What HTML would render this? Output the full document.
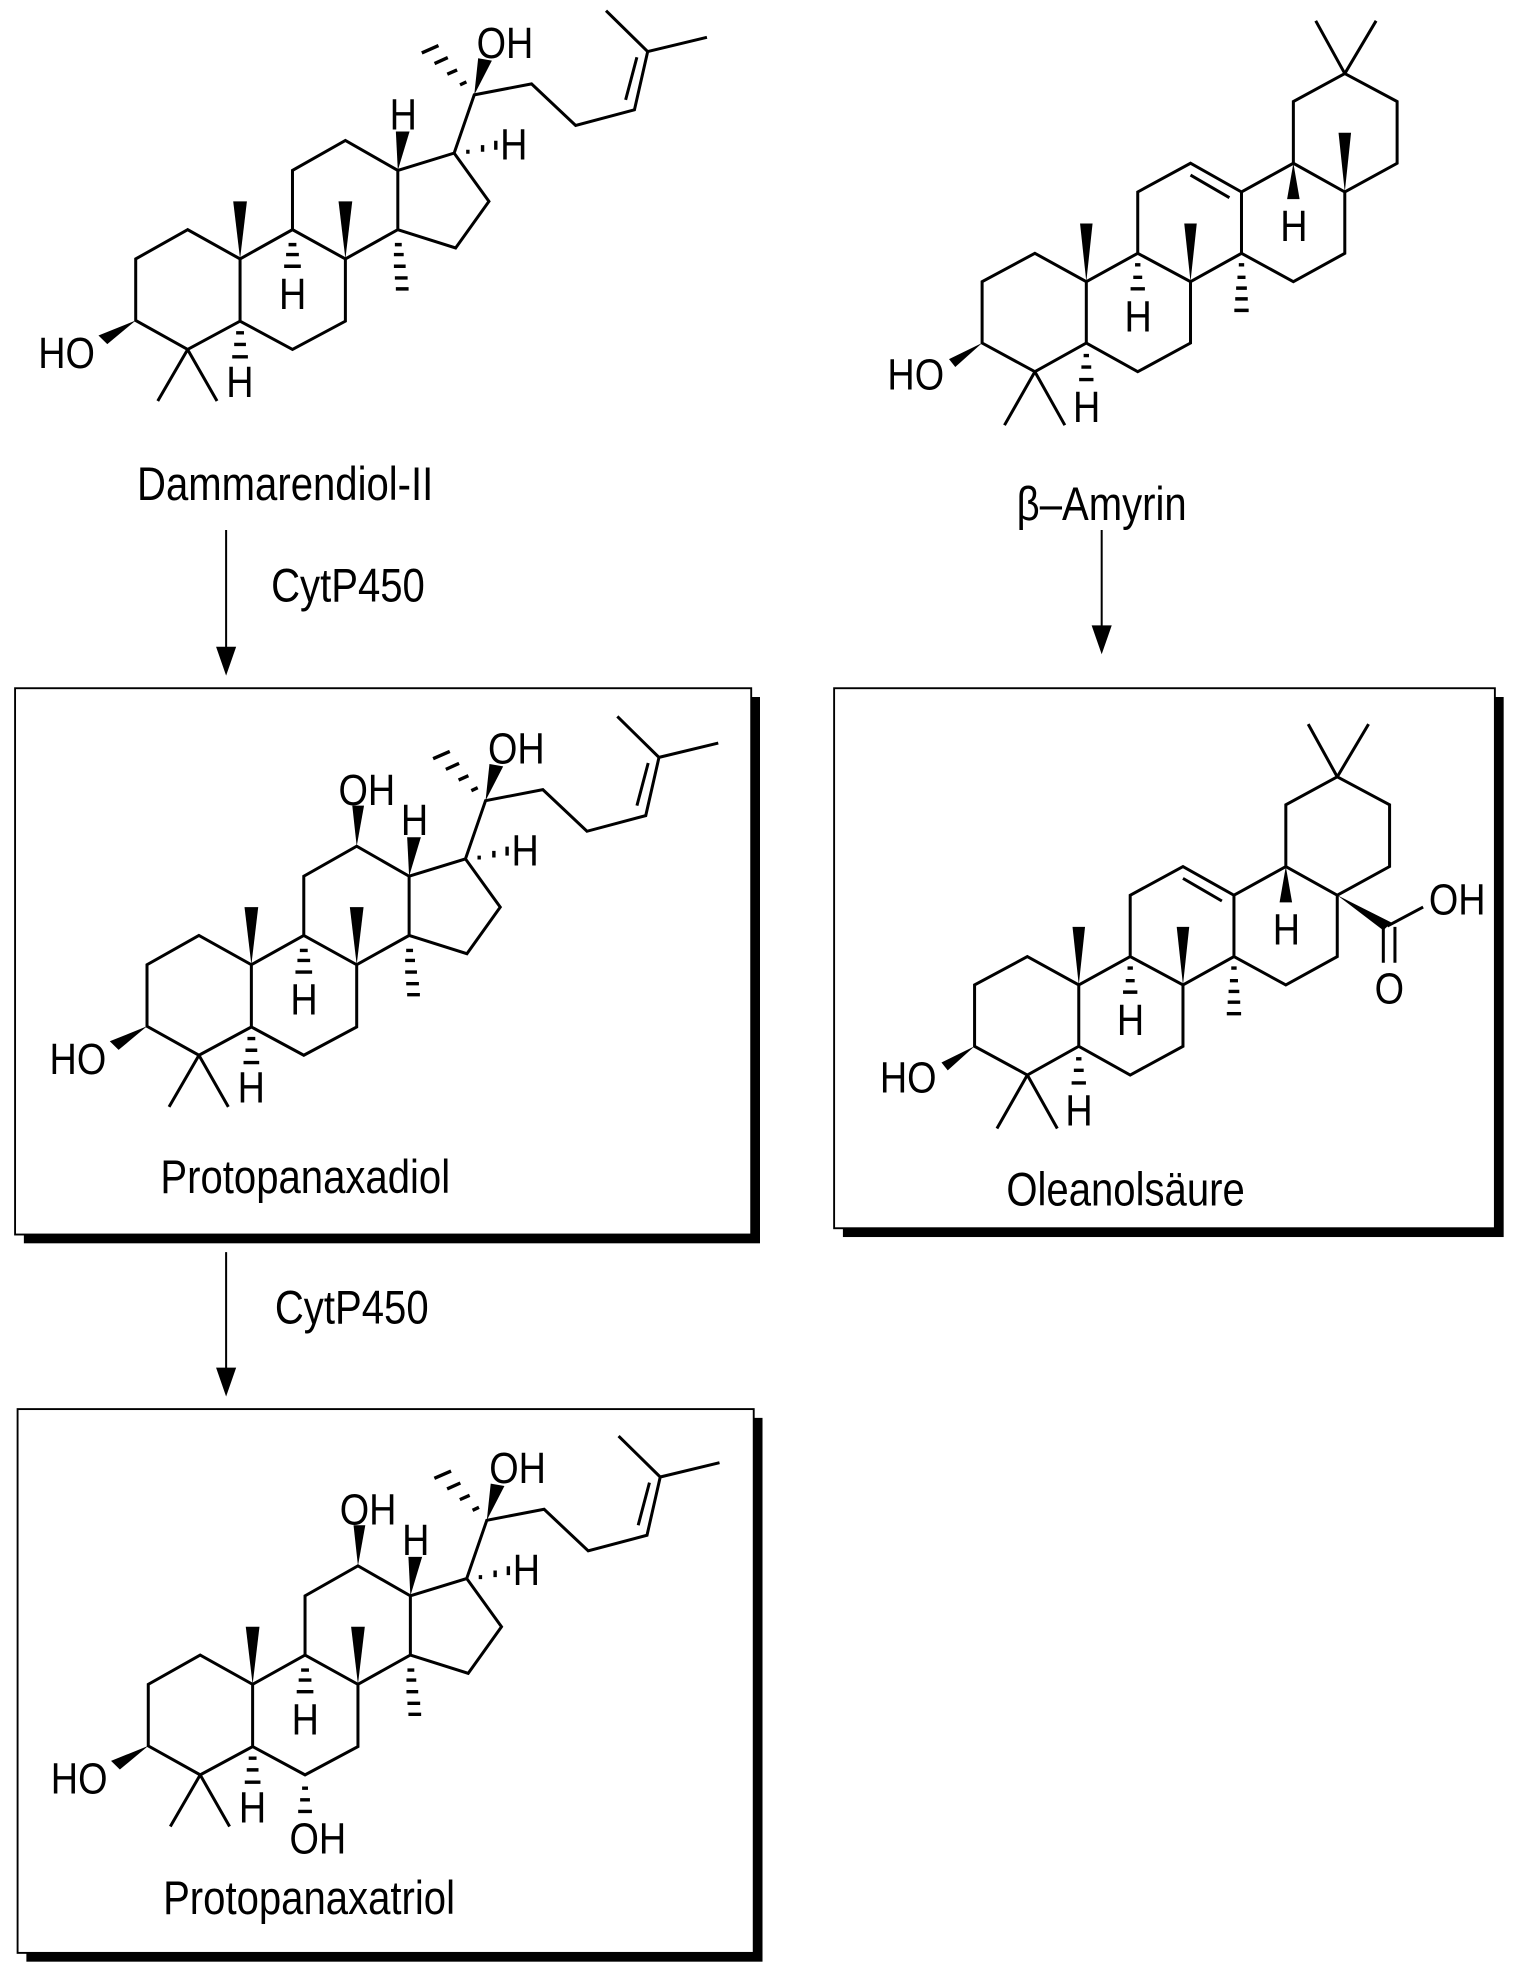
<!DOCTYPE html>
<html><head><meta charset="utf-8"><style>
html,body{margin:0;padding:0;background:#fff}
svg{display:block}
text{font-family:"Liberation Sans",Arial,sans-serif;fill:#000}
.a{font-size:35px}
.n{font-size:38px}
</style></head><body>
<svg width="1520" height="1978" viewBox="0 0 1210 1575" preserveAspectRatio="none" xmlns="http://www.w3.org/2000/svg">
<defs>
<g id="dam">
 <g transform="matrix(0.39,0,0,0.265,0,0)">
  <g fill="none" stroke="#000" stroke-width="3" stroke-linejoin="miter">
   <path vector-effect="non-scaling-stroke" d="M383,690 L277,778 L277,963 L383,1050 L490,965 L490,778 Z M490,778 L597,690 L705,778 L705,965 L597,1050 L490,965 M597,690 L597,512 L705,422 L812,512 L812,690 L705,778 M812,512 L927,460 L998,605 L930,745 L812,690 M927,460 L968,285 L1085,252 L1175,377 L1295,330 L1322,155 L1237,32 M1322,155 L1443,112 M1277,300 L1300,172 M383,1050 L322,1205 M383,1050 L443,1205"/>
   <path vector-effect="non-scaling-stroke" stroke-width="3.4" d="M589,735 L605,735 M584,765 L610,765 M580,800 L614,800 M806,735 L820,735 M804,765 L824,765 M804,800 L828,800 M806,835 L832,835 M808,868 L834,868 M482,1000 L498,1000 M478,1035 L502,1035 M474,1072 L506,1072 M955,450 L955,462 M985,436 L985,456 M1012,423 L1012,450 M939,255 L952,246 M913,223 L933,210 M887,191 L914,173 M861,159 L895,137"/>
  </g>
  <polygon points="490,778 476,605 504,605"/>
  <polygon points="705,778 691,605 719,605"/>
  <polygon points="812,512 808,395 836,395"/>
  <polygon points="968,285 976,175 1004,182"/>
  <polygon points="277,963 201,1008 219,1034"/>
 </g>
 <text class="a" transform="translate(402,46) scale(0.86,1)" text-anchor="middle">OH</text>
 <text class="a" transform="translate(321,103) scale(0.86,1)" text-anchor="middle">H</text>
 <text class="a" transform="translate(409,127) scale(0.86,1)" text-anchor="middle">H</text>
 <text class="a" transform="translate(233,246) scale(0.86,1)" text-anchor="middle">H</text>
 <text class="a" transform="translate(191,316) scale(0.86,1)" text-anchor="middle">H</text>
 <text class="a" transform="translate(53,293) scale(0.86,1)" text-anchor="middle">HO</text>
</g>
<g id="oh12">
 <g transform="matrix(0.39,0,0,0.265,0,0)"><polygon points="705,422 696,300 720,300"/></g>
 <text class="a" transform="translate(283,79) scale(0.86,1)" text-anchor="middle">OH</text>
</g>
<g id="ole">
 <g transform="matrix(0.356,0,0,0.2857,650.5,538)">
  <g fill="none" stroke="#000" stroke-width="3">
   <path vector-effect="non-scaling-stroke" d="M470,783 L352,862 L352,1033 L470,1113 L585,1033 L585,862 Z M585,862 L700,783 L818,862 L818,1033 L700,1113 L585,1033 M700,783 L700,612 L818,532 L932,612 L932,783 L818,862 M818,565 L905,628 M932,612 L1048,532 L1163,612 L1163,783 L1048,862 L932,783 M1048,532 L1048,360 L1163,282 L1280,360 L1280,532 L1163,612 M1163,282 L1098,135 M1163,282 L1233,135 M470,1113 L402,1262 M470,1113 L537,1262"/>
   <path vector-effect="non-scaling-stroke" stroke-width="3.4" d="M694,815 L706,815 M690,850 L710,850 M684,882 L716,882 M926,815 L938,815 M923,850 L941,850 M920,880 L944,880 M918,910 L946,910 M916,942 L948,942 M579,1068 L591,1068 M574,1100 L596,1100 M569,1135 L601,1135"/>
  </g>
  <polygon points="585,862 571,700 599,700"/>
  <polygon points="818,862 804,700 832,700"/>
  <polygon points="1048,532 1034,632 1062,632"/>
  <polygon points="352,1033 278,1078 292,1100"/>
 </g>
 <text class="a" transform="translate(1024,752) scale(0.86,1)" text-anchor="middle">H</text>
 <text class="a" transform="translate(900,824) scale(0.86,1)" text-anchor="middle">H</text>
 <text class="a" transform="translate(859,896) scale(0.86,1)" text-anchor="middle">H</text>
 <text class="a" transform="translate(723,870) scale(0.86,1)" text-anchor="middle">HO</text>
</g>
</defs>

<use href="#dam"/>
<text class="n" transform="translate(227,398) scale(0.84,1)" text-anchor="middle">Dammarendiol-II</text>

<g stroke="#000" stroke-width="1.6" fill="none">
 <line x1="180" y1="422" x2="180" y2="520"/>
 <line x1="180" y1="997" x2="180" y2="1094"/>
 <line x1="877" y1="422" x2="877" y2="503"/>
</g>
<polygon points="172,515 188,515 180,538"/>
<polygon points="172,1089 188,1089 180,1112"/>
<polygon points="869,498 885,498 877,521"/>
<text class="n" transform="translate(277,479) scale(0.84,1)" text-anchor="middle">CytP450</text>
<text class="n" transform="translate(280,1054) scale(0.84,1)" text-anchor="middle">CytP450</text>

<rect x="19" y="555" width="586" height="435" fill="#000"/>
<rect x="12" y="548" width="586" height="435" fill="#fff" stroke="#000" stroke-width="1.5"/>
<g transform="translate(9,562)"><use href="#dam"/><use href="#oh12"/></g>
<text class="n" transform="translate(243,950) scale(0.84,1)" text-anchor="middle">Protopanaxadiol</text>

<rect x="21" y="1129" width="586" height="433" fill="#000"/>
<rect x="14" y="1122" width="586" height="433" fill="#fff" stroke="#000" stroke-width="1.5"/>
<g transform="translate(10,1135)"><use href="#dam"/><use href="#oh12"/>
 <g transform="matrix(0.39,0,0,0.265,0,0)" stroke="#000" stroke-width="3.4" fill="none">
  <path vector-effect="non-scaling-stroke" d="M591,1090 L603,1090 M587,1125 L607,1125 M583,1160 L611,1160"/>
 </g>
 <text class="a" transform="translate(243,341) scale(0.86,1)" text-anchor="middle">OH</text>
</g>
<text class="n" transform="translate(246,1524) scale(0.84,1)" text-anchor="middle">Protopanaxatriol</text>

<g transform="translate(6,-560)">
 <use href="#ole"/>
 <g transform="matrix(0.356,0,0,0.2857,650.5,538)"><polygon points="1163,612 1149,447 1177,447"/></g>
</g>
<text class="n" transform="translate(877,414) scale(0.84,1)" text-anchor="middle">β–Amyrin</text>

<rect x="671" y="555" width="526" height="430" fill="#000"/>
<rect x="664" y="548" width="526" height="430" fill="#fff" stroke="#000" stroke-width="1.5"/>
<use href="#ole"/>
<g transform="matrix(0.356,0,0,0.2857,650.5,538)">
 <polygon points="1163,612 1266,710 1284,688"/>
 <path vector-effect="non-scaling-stroke" stroke="#000" stroke-width="3" fill="none" d="M1275,698 L1355,645 M1266,700 L1266,800 M1292,700 L1292,800"/>
</g>
<text class="a" transform="translate(1106,799) scale(0.86,1)" text-anchor="middle">O</text>
<text class="a" transform="translate(1160,728) scale(0.86,1)" text-anchor="middle">OH</text>
<text class="n" transform="translate(896,960) scale(0.84,1)" text-anchor="middle">Oleanolsäure</text>
</svg>
</body></html>
